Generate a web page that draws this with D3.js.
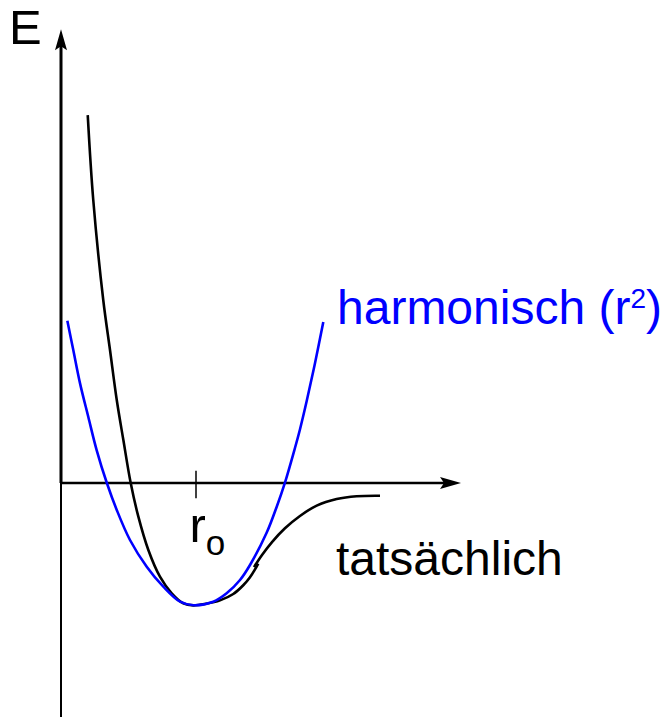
<!DOCTYPE html>
<html>
<head>
<meta charset="utf-8">
<script src="https://cdn.jsdelivr.net/npm/d3@7"></script>
<style>
  body { margin: 0; background: #fff; }
  text { font-family: "Liberation Sans", Arial, Helvetica, sans-serif; }
</style>
</head>
<body>
<script>
var width = 667, height = 717;

// harmonic approximation (r, E)
var harmR = [0.047, 0.091, 0.141, 0.202, 0.264, 0.339, 0.413, 0.511, 0.635, 0.758, 0.882, 0.980, 1.128, 1.227, 1.326, 1.400, 1.524, 1.598, 1.659, 1.733, 1.770, 1.820, 1.881, 1.943];
var harmE = [1.330, 1.090, 0.817, 0.543, 0.270, 0.002, -0.221, -0.467, -0.686, -0.850, -0.973, -1.002, -0.973, -0.904, -0.795, -0.672, -0.406, -0.194, 0.004, 0.287, 0.439, 0.672, 0.980, 1.320];

// real potential, first stroke (repulsive wall to just past the minimum)
var realR1 = [0.198, 0.239, 0.313, 0.363, 0.413, 0.462, 0.516, 0.573, 0.647, 0.733, 0.820, 0.906, 0.980, 1.074, 1.178, 1.276, 1.350, 1.400, 1.437, 1.461];
var realE1 = [3.016, 2.320, 1.500, 1.090, 0.680, 0.352, 0.002, -0.276, -0.549, -0.768, -0.904, -0.986, -1.003, -0.990, -0.962, -0.910, -0.838, -0.772, -0.708, -0.660];

// real potential, second stroke (towards dissociation)
var realR2 = [1.430, 1.489, 1.563, 1.659, 1.770, 1.894, 2.042, 2.190, 2.363];
var realE2 = [-0.689, -0.590, -0.484, -0.371, -0.270, -0.185, -0.131, -0.108, -0.104];

var r0 = 1.0;
var tickTop = 0.10, tickBottom = -0.125;

var x = d3.scaleLinear().domain([0, 3]).range([61, 466]);
var y = d3.scaleLinear().domain([-1.918, 3.72]).range([717, 29.2]);

var svg = d3.select("body").append("svg")
    .attr("width", width)
    .attr("height", height);

var line = d3.line()
    .x(function(d) { return x(d[0]); })
    .y(function(d) { return y(d[1]); })
    .curve(d3.curveCatmullRom.alpha(0.5));

function pairs(rs, es) {
  return rs.map(function(r, i) { return [r, es[i]]; });
}

// axes
var xMax = 2.963, yMax = 3.72;
var x0 = x(0), y0 = y(0);

// y axis: thicker above the r axis, thinner below
svg.append("line")
    .attr("x1", x0).attr("x2", x0)
    .attr("y1", y(y.domain()[0])).attr("y2", y0)
    .attr("stroke", "#000").attr("stroke-width", 2);
svg.append("line")
    .attr("x1", x0).attr("x2", x0)
    .attr("y1", y0).attr("y2", y(yMax) + 16)
    .attr("stroke", "#000").attr("stroke-width", 3);

// x axis
svg.append("line")
    .attr("x1", x0).attr("x2", x(xMax) - 16)
    .attr("y1", y0).attr("y2", y0)
    .attr("stroke", "#000").attr("stroke-width", 2.5);

// arrow heads
var ty = y(yMax);
svg.append("path")
    .attr("d", "M" + x0 + "," + ty + " L" + (x0 + 6) + "," + (ty + 21) +
               " L" + x0 + "," + (ty + 17) + " L" + (x0 - 6) + "," + (ty + 21) + "Z")
    .attr("fill", "#000");
var tx = x(xMax);
svg.append("path")
    .attr("d", "M" + tx + "," + y0 + " L" + (tx - 21) + "," + (y0 - 6) +
               " L" + (tx - 17) + "," + y0 + " L" + (tx - 21) + "," + (y0 + 6) + "Z")
    .attr("fill", "#000");

// r0 tick
svg.append("line")
    .attr("x1", x(r0)).attr("x2", x(r0))
    .attr("y1", y(tickTop)).attr("y2", y(tickBottom))
    .attr("stroke", "#000").attr("stroke-width", 1.5);

// curves
svg.append("path")
    .attr("d", line(pairs(realR1, realE1)))
    .attr("fill", "none").attr("stroke", "#000").attr("stroke-width", 2.6);
svg.append("path")
    .attr("d", line(pairs(realR2, realE2)))
    .attr("fill", "none").attr("stroke", "#000").attr("stroke-width", 2.6);
svg.append("path")
    .attr("d", line(pairs(harmR, harmE)))
    .attr("fill", "none").attr("stroke", "#0000ff").attr("stroke-width", 2.6);

// labels
svg.append("text")
    .attr("x", 9).attr("y", 44)
    .style("font-size", "49px")
    .text("E");

var rl = svg.append("text")
    .attr("x", 189.5).attr("y", 541.7)
    .style("font-size", "49px");
rl.append("tspan").text("r");
rl.append("tspan").attr("dy", 13).style("font-size", "35px").text("o");

var hl = svg.append("text")
    .attr("x", 337).attr("y", 324)
    .attr("fill", "#0000ff")
    .style("font-size", "48px");
hl.append("tspan").text("harmonisch (r");
hl.append("tspan").attr("dy", -16).style("font-size", "28px").text("2");
hl.append("tspan").attr("dy", 16).text(")");

svg.append("text")
    .attr("x", 336).attr("y", 575)
    .style("font-size", "48px")
    .text("tatsächlich");
</script>
</body>
</html>
